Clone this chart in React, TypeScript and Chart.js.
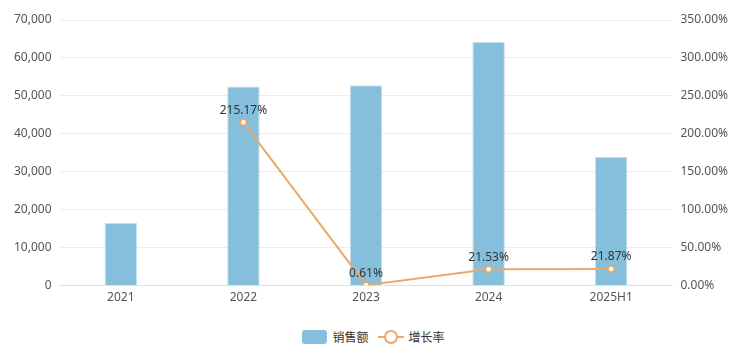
import React, { useEffect, useRef } from "react";
import { Chart, registerables } from "chart.js";

Chart.register(...registerables);

const categories = ["2021", "2022", "2023", "2024", "2025H1"];
const salesValues = [16500, 52500, 52800, 64200, 33900];
const growthValues = [null, 215.17, 0.61, 21.53, 21.87];
const growthLabels = ["", "215.17%", "0.61%", "21.53%", "21.87%"];

const BAR_COLOR = "#86bfdc";
const LINE_COLOR = "#e8a96a";
const FONT = "'Noto Sans', 'Noto Sans CJK SC', sans-serif";

const labelPlugin = {
  id: "pointLabels",
  afterDatasetsDraw(chart: any) {
    const meta = chart.getDatasetMeta(1);
    const ctx = chart.ctx;
    ctx.save();
    ctx.font = `12px ${FONT}`;
    ctx.fillStyle = "#333";
    ctx.textAlign = "center";
    ctx.textBaseline = "bottom";
    meta.data.forEach((pt: any, i: number) => {
      if (growthValues[i] == null) return;
      ctx.fillText(growthLabels[i], pt.x, pt.y - 6);
    });
    ctx.restore();
  },
};

export default function App() {
  const ref = useRef<HTMLCanvasElement>(null);
  useEffect(() => {
    document.body.style.margin = "0";
    const chart = new Chart(ref.current!, {
      type: "bar",
      data: {
        labels: categories,
        datasets: [
          {
            type: "bar",
            label: "销售额",
            data: salesValues,
            backgroundColor: BAR_COLOR,
            borderColor: "#c4e0ee",
            borderWidth: 1,
            barPercentage: 0.265,
            categoryPercentage: 1,
            yAxisID: "y",
            order: 2,
          },
          {
            type: "line",
            label: "增长率",
            data: growthValues as any,
            borderColor: LINE_COLOR,
            borderWidth: 2,
            pointRadius: 3,
            pointBorderWidth: 1.5,
            pointBackgroundColor: "#fff",
            pointBorderColor: LINE_COLOR,
            yAxisID: "y1",
            order: 1,
            spanGaps: false,
          } as any,
        ],
      },
      options: {
        animation: false,
        responsive: false,
        maintainAspectRatio: false,
        layout: { padding: { top: 20, right: 11, left: 6, bottom: 0 } },
        plugins: { legend: { display: false }, tooltip: { enabled: false } },
        scales: {
          x: {
            grid: { display: false, drawTicks: false },
            border: { color: "#e0e0e0" },
            ticks: { color: "#555", font: { size: 12, family: FONT }, padding: 5 },
          },
          y: {
            position: "left",
            min: 0,
            max: 70000,
            ticks: {
              stepSize: 10000,
              color: "#555",
              font: { size: 12, family: FONT },
              padding: 8,
              callback: (v: any) => Number(v).toLocaleString("en-US"),
            },
            grid: { color: "#ececec", drawTicks: false },
            border: { display: false },
          },
          y1: {
            position: "right",
            min: 0,
            max: 350,
            ticks: {
              stepSize: 50,
              color: "#555",
              font: { size: 12, family: FONT },
              padding: 8,
              callback: (v: any) => Number(v).toFixed(2) + "%",
            },
            grid: { display: false, drawTicks: false },
            border: { display: false },
          },
        },
      },
      plugins: [labelPlugin],
    });
    return () => chart.destroy();
  }, []);

  return (
    <div style={{ position: "relative", width: 747, height: 360, background: "#fff", fontFamily: FONT }}>
      <canvas ref={ref} width={747} height={310} style={{ display: "block" }} />
      <div
        style={{
          position: "absolute",
          top: 328,
          left: 0,
          width: 747,
          display: "flex",
          justifyContent: "center",
          alignItems: "center",
          fontSize: 12,
          color: "#333",
        }}
      >
        <span style={{ display: "inline-block", width: 25, height: 14, background: BAR_COLOR, borderRadius: 3, marginRight: 5 }} />
        <span style={{ marginRight: 9, fontFamily: "'Noto Sans CJK SC', sans-serif" }}>销售额</span>
        <span style={{ position: "relative", display: "inline-block", width: 26, height: 14, marginRight: 5 }}>
          <span style={{ position: "absolute", left: 0, top: 6, width: 26, height: 2, background: LINE_COLOR }} />
          <span style={{ position: "absolute", left: 6, top: 0, width: 10, height: 10, borderRadius: "50%", border: `2px solid ${LINE_COLOR}`, background: "#fff" }} />
        </span>
        <span style={{ fontFamily: "'Noto Sans CJK SC', sans-serif" }}>增长率</span>
      </div>
    </div>
  );
}
